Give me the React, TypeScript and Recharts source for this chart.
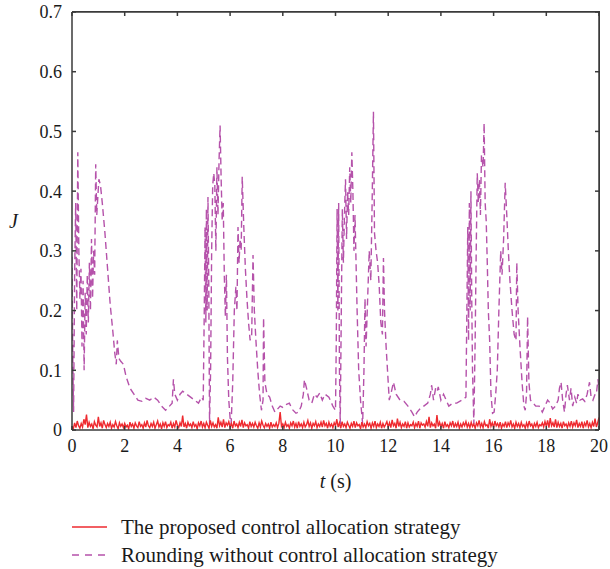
import React from "react";
import { Line, LineChart, XAxis, YAxis } from "recharts";

// J of the proposed strategy, sampled every 0.05 s from t = 0 to 20
const proposedJ = [
  0.006, 0.002, 0.012, 0.004, 0.015, 0.007, 0.003, 0.011, 0.005, 0.018,
  0.009, 0.026, 0.004, 0.013, 0.006, 0.01, 0.002, 0.014, 0.008, 0.005,
  0.022, 0.006, 0.012, 0.003, 0.016, 0.009, 0.004, 0.011, 0.006, 0.013,
  0.003, 0.009, 0.005, 0.014, 0.007, 0.002, 0.012, 0.006, 0.01, 0.004,
  0.011, 0.005, 0.008, 0.002, 0.013, 0.006, 0.01, 0.003, 0.012, 0.007,
  0.004, 0.014, 0.006, 0.009, 0.003, 0.012, 0.005, 0.016, 0.007, 0.004,
  0.011, 0.006, 0.013, 0.003, 0.009, 0.015, 0.005, 0.01, 0.002, 0.012,
  0.006, 0.014, 0.004, 0.009, 0.007, 0.013, 0.003, 0.011, 0.005, 0.016,
  0.008, 0.004, 0.012, 0.006, 0.024, 0.005, 0.011, 0.003, 0.013, 0.007,
  0.01, 0.004, 0.014, 0.006, 0.009, 0.002, 0.012, 0.007, 0.015, 0.005,
  0.011, 0.004, 0.013, 0.008, 0.003, 0.016, 0.006, 0.012, 0.005, 0.009,
  0.003, 0.021, 0.007, 0.013, 0.005, 0.018, 0.004, 0.012, 0.008, 0.014,
  0.005, 0.011, 0.003, 0.015, 0.007, 0.01, 0.004, 0.013, 0.006, 0.017,
  0.004, 0.012, 0.007, 0.009, 0.003, 0.014, 0.006, 0.011, 0.005, 0.013,
  0.007, 0.003, 0.012, 0.005, 0.015, 0.008, 0.004, 0.011, 0.006, 0.01,
  0.003, 0.013, 0.005, 0.009, 0.006, 0.012, 0.004, 0.011, 0.03, 0.006,
  0.01, 0.004, 0.013, 0.006, 0.009, 0.003, 0.012, 0.007, 0.015, 0.005,
  0.011, 0.003, 0.014, 0.006, 0.01, 0.004, 0.013, 0.005, 0.009, 0.016,
  0.006, 0.012, 0.003, 0.011, 0.007, 0.014, 0.004, 0.01, 0.006, 0.013,
  0.005, 0.016, 0.007, 0.011, 0.003, 0.013, 0.006, 0.01, 0.004, 0.012,
  0.007, 0.018, 0.005, 0.012, 0.003, 0.014, 0.006, 0.01, 0.004, 0.013,
  0.008, 0.003, 0.011, 0.006, 0.015, 0.004, 0.012, 0.007, 0.009, 0.002,
  0.013, 0.005, 0.01, 0.004, 0.014, 0.007, 0.011, 0.003, 0.012, 0.006,
  0.015, 0.004, 0.01, 0.006, 0.013, 0.003, 0.011, 0.005, 0.009, 0.014,
  0.005, 0.012, 0.004, 0.017, 0.007, 0.011, 0.003, 0.019, 0.006, 0.013,
  0.004, 0.01, 0.006, 0.014, 0.003, 0.012, 0.005, 0.009, 0.007, 0.013,
  0.004, 0.011, 0.006, 0.015, 0.003, 0.012, 0.008, 0.01, 0.005, 0.014,
  0.006, 0.022, 0.004, 0.012, 0.007, 0.01, 0.003, 0.025, 0.006, 0.013,
  0.005, 0.011, 0.003, 0.014, 0.006, 0.009, 0.004, 0.012, 0.007, 0.015,
  0.004, 0.011, 0.006, 0.013, 0.003, 0.01, 0.005, 0.012, 0.007, 0.014,
  0.005, 0.011, 0.004, 0.013, 0.006, 0.01, 0.003, 0.012, 0.007, 0.016,
  0.005, 0.011, 0.004, 0.014, 0.007, 0.009, 0.003, 0.018, 0.006, 0.012,
  0.004, 0.015, 0.007, 0.011, 0.005, 0.013, 0.003, 0.01, 0.006, 0.014,
  0.004, 0.012, 0.007, 0.016, 0.005, 0.01, 0.003, 0.013, 0.006, 0.011,
  0.004, 0.013, 0.006, 0.009, 0.003, 0.012, 0.005, 0.015, 0.007, 0.01,
  0.003, 0.011, 0.006, 0.013, 0.004, 0.009, 0.007, 0.012, 0.005, 0.014,
  0.006, 0.016, 0.004, 0.02, 0.007, 0.012, 0.005, 0.018, 0.004, 0.013,
  0.006, 0.011, 0.003, 0.014, 0.007, 0.01, 0.004, 0.012, 0.006, 0.015,
  0.005, 0.012, 0.007, 0.017, 0.004, 0.011, 0.006, 0.014, 0.003, 0.012,
  0.007, 0.016, 0.005, 0.011, 0.004, 0.013, 0.006, 0.019, 0.005, 0.012,
  0.021,
];

// [t, J] for rounding without control allocation
const roundingPoints: [number, number][] = [
  [0, 0.29], [0.03, 0.12], [0.06, 0.03], [0.1, 0.26], [0.14, 0.38], [0.18, 0.2],
  [0.22, 0.465], [0.26, 0.3], [0.3, 0.22], [0.34, 0.27], [0.38, 0.14], [0.42, 0.25],
  [0.46, 0.1], [0.5, 0.23], [0.54, 0.16], [0.58, 0.26], [0.62, 0.18], [0.66, 0.28],
  [0.7, 0.2], [0.74, 0.32], [0.78, 0.22], [0.82, 0.3], [0.86, 0.26], [0.9, 0.445],
  [0.94, 0.36], [0.98, 0.39], [1.02, 0.42], [1.08, 0.41], [1.15, 0.38], [1.25, 0.33],
  [1.35, 0.27], [1.45, 0.21], [1.55, 0.165], [1.62, 0.13], [1.68, 0.11], [1.72, 0.15],
  [1.78, 0.12], [1.85, 0.115], [1.95, 0.11], [2.05, 0.09], [2.2, 0.07], [2.35, 0.06],
  [2.5, 0.05], [2.65, 0.048], [2.8, 0.053], [2.95, 0.05], [3.1, 0.055], [3.25, 0.05],
  [3.4, 0.04], [3.55, 0.033], [3.7, 0.04], [3.8, 0.045], [3.85, 0.085], [3.9, 0.06],
  [4.0, 0.05], [4.1, 0.06], [4.2, 0.065], [4.35, 0.06], [4.5, 0.055], [4.65, 0.05],
  [4.8, 0.045], [4.92, 0.055], [4.98, 0.05],
  [5.02, 0.2], [5.05, 0.34], [5.08, 0.18], [5.1, 0.37], [5.13, 0.2], [5.16, 0.39],
  [5.19, 0.25], [5.22, 0.01], [5.26, 0.1], [5.3, 0.3], [5.34, 0.41], [5.38, 0.43],
  [5.42, 0.41], [5.46, 0.3], [5.5, 0.44], [5.54, 0.36], [5.58, 0.45], [5.62, 0.51],
  [5.66, 0.42], [5.7, 0.35], [5.74, 0.38], [5.78, 0.26], [5.82, 0.19], [5.86, 0.26],
  [5.9, 0.12], [5.95, 0.05], [6.0, 0.02], [6.04, 0.01], [6.1, 0.08], [6.16, 0.2],
  [6.22, 0.24], [6.26, 0.2], [6.3, 0.34], [6.34, 0.28], [6.38, 0.32], [6.42, 0.3],
  [6.46, 0.424], [6.52, 0.34], [6.58, 0.27], [6.64, 0.22], [6.7, 0.18], [6.76, 0.15],
  [6.82, 0.16], [6.87, 0.293], [6.92, 0.2], [6.98, 0.15], [7.05, 0.1], [7.12, 0.06],
  [7.19, 0.033], [7.25, 0.05], [7.27, 0.188], [7.32, 0.08], [7.4, 0.06], [7.5, 0.055],
  [7.6, 0.04], [7.7, 0.03], [7.8, 0.035], [7.9, 0.04], [8.0, 0.038], [8.1, 0.042],
  [8.25, 0.045], [8.35, 0.035], [8.5, 0.028], [8.6, 0.03], [8.7, 0.04], [8.78, 0.06],
  [8.82, 0.084], [8.9, 0.07], [9.0, 0.05], [9.1, 0.045], [9.2, 0.06], [9.3, 0.055],
  [9.4, 0.062], [9.5, 0.05], [9.6, 0.06], [9.75, 0.055], [9.9, 0.04], [10.0, 0.033],
  [10.03, 0.15], [10.06, 0.37], [10.09, 0.2], [10.12, 0.38], [10.15, 0.1], [10.18, 0.01],
  [10.22, 0.2], [10.26, 0.37], [10.3, 0.28], [10.34, 0.36], [10.38, 0.42], [10.42, 0.32],
  [10.46, 0.4], [10.5, 0.36], [10.54, 0.44], [10.58, 0.38], [10.62, 0.465], [10.66, 0.4],
  [10.7, 0.3], [10.74, 0.36], [10.78, 0.28], [10.82, 0.2], [10.88, 0.1], [10.95, 0.05],
  [11.03, 0.01], [11.08, 0.1], [11.12, 0.22], [11.16, 0.14], [11.22, 0.22], [11.28, 0.3],
  [11.34, 0.25], [11.39, 0.38], [11.44, 0.533], [11.48, 0.33], [11.54, 0.3], [11.6, 0.28],
  [11.66, 0.24], [11.72, 0.18], [11.78, 0.16], [11.82, 0.288], [11.86, 0.2], [11.92, 0.14],
  [11.98, 0.095], [12.04, 0.05], [12.1, 0.06], [12.2, 0.08], [12.3, 0.06], [12.45, 0.05],
  [12.6, 0.048], [12.75, 0.04], [12.9, 0.03], [13.0, 0.022], [13.1, 0.03], [13.2, 0.035],
  [13.35, 0.04], [13.5, 0.045], [13.6, 0.06], [13.65, 0.075], [13.72, 0.05], [13.8, 0.07],
  [13.86, 0.065], [13.9, 0.072], [14.0, 0.05], [14.1, 0.06], [14.2, 0.05], [14.3, 0.04],
  [14.45, 0.045], [14.6, 0.045], [14.8, 0.05], [14.95, 0.055],
  [15.02, 0.34], [15.05, 0.15], [15.08, 0.38], [15.11, 0.2], [15.14, 0.4], [15.17, 0.22],
  [15.2, 0.1], [15.25, 0.01], [15.3, 0.15], [15.34, 0.3], [15.38, 0.43], [15.42, 0.38],
  [15.46, 0.42], [15.5, 0.36], [15.54, 0.46], [15.6, 0.44], [15.64, 0.514], [15.68, 0.38],
  [15.72, 0.35], [15.76, 0.28], [15.8, 0.2], [15.85, 0.15], [15.9, 0.06], [15.96, 0.028],
  [16.02, 0.03], [16.08, 0.06], [16.14, 0.1], [16.2, 0.2], [16.27, 0.3], [16.32, 0.26],
  [16.38, 0.32], [16.44, 0.414], [16.5, 0.36], [16.56, 0.3], [16.62, 0.25], [16.7, 0.2],
  [16.78, 0.16], [16.85, 0.15], [16.88, 0.28], [16.93, 0.2], [17.0, 0.14], [17.08, 0.08],
  [17.15, 0.04], [17.2, 0.033], [17.25, 0.06], [17.29, 0.19], [17.34, 0.08], [17.4, 0.05],
  [17.5, 0.045], [17.6, 0.04], [17.73, 0.04], [17.85, 0.03], [17.95, 0.04], [18.05, 0.05],
  [18.15, 0.045], [18.24, 0.035], [18.35, 0.04], [18.45, 0.05], [18.5, 0.07], [18.56, 0.08],
  [18.62, 0.05], [18.69, 0.03], [18.75, 0.06], [18.8, 0.075], [18.88, 0.05], [18.94, 0.07],
  [19.0, 0.04], [19.08, 0.055], [19.15, 0.045], [19.2, 0.06], [19.28, 0.05], [19.38, 0.052],
  [19.46, 0.048], [19.55, 0.06], [19.64, 0.08], [19.7, 0.055], [19.77, 0.05], [19.85, 0.06],
  [19.9, 0.06], [19.96, 0.085], [20.0, 0.07],
];

const xTicks = [0, 2, 4, 6, 8, 10, 12, 14, 16, 18, 20];
const yTicks = [0, 0.1, 0.2, 0.3, 0.4, 0.5, 0.6, 0.7];

const proposedData = proposedJ.map((j, i) => ({ t: i / 20, j }));
const roundingData = roundingPoints.map(([t, j]) => ({ t, j }));

const FONT = "'Liberation Serif', 'DejaVu Serif', serif";
const RED = "#ee2a2f";
const MAGENTA = "#b552aa";
const AXIS = "#3a3a3a";

const tickStyle = { fill: "#1a1a1a", fontSize: 18, fontFamily: FONT };

function XLabel({ viewBox }: any) {
  const { x, y, width, height } = viewBox;
  return (
    <text x={x + width / 2} y={y + height - 2} textAnchor="middle" fill="#1a1a1a" fontSize={20} fontFamily={FONT}>
      <tspan fontStyle="italic">t</tspan> (s)
    </text>
  );
}

export default function App() {
  return (
    <div style={{ position: "absolute", left: 0, top: 0, width: 610, height: 569, background: "#fff", fontFamily: FONT }}>
      <style>{`svg text, svg tspan { font-family: ${FONT} !important; }`}</style>
      <LineChart width={610} height={500} margin={{ top: 11, right: 0, bottom: 10, left: 0 }}>
        <XAxis
          dataKey="t"
          type="number"
          domain={[0, 20]}
          ticks={xTicks}
          allowDataOverflow
          height={60}
          stroke={AXIS}
          strokeWidth={1.5}
          tickSize={-4}
          tickMargin={13}
          tick={tickStyle}
          label={<XLabel />}
        />
        <XAxis
          xAxisId="top"
          dataKey="t"
          orientation="top"
          type="number"
          domain={[0, 20]}
          ticks={xTicks}
          allowDataOverflow
          height={1}
          stroke={AXIS}
          strokeWidth={1.5}
          tickSize={-4}
          tickFormatter={() => ""}
        />
        <YAxis
          type="number"
          domain={[0, 0.7]}
          ticks={yTicks}
          allowDataOverflow
          width={72}
          stroke={AXIS}
          strokeWidth={1.5}
          tickSize={-4}
          tickMargin={14}
          tick={tickStyle}
          tickFormatter={(v: number) => (v === 0 ? "0" : v.toFixed(1))}
          label={{ value: "J", position: "insideLeft", offset: 9, fill: "#1a1a1a", fontSize: 20, fontStyle: "italic", fontFamily: FONT }}
        />
        <YAxis
          yAxisId="right"
          orientation="right"
          type="number"
          domain={[0, 0.7]}
          ticks={yTicks}
          allowDataOverflow
          width={11}
          stroke={AXIS}
          strokeWidth={1.5}
          tickSize={-4}
          tickFormatter={() => ""}
        />
        {/* transparent series so the top and right frame axes get drawn */}
        <Line
          xAxisId="top"
          yAxisId="right"
          data={proposedData}
          dataKey="j"
          stroke="rgba(0,0,0,0)"
          dot={false}
          legendType="none"
          isAnimationActive={false}
        />
        <Line
          data={roundingData}
          dataKey="j"
          stroke={MAGENTA}
          strokeWidth={1.4}
          strokeDasharray="7 4"
          dot={false}
          isAnimationActive={false}
        />
        <Line
          data={proposedData}
          dataKey="j"
          stroke={RED}
          strokeWidth={1.4}
          dot={false}
          isAnimationActive={false}
        />
      </LineChart>
      {/* plot frame (top and right edges) */}
      <div
        style={{
          position: "absolute",
          left: 72,
          top: 11,
          width: 528,
          height: 419,
          borderTop: `1.5px solid ${AXIS}`,
          borderRight: `1.5px solid ${AXIS}`,
          boxSizing: "border-box",
          pointerEvents: "none",
        }}
      />
      <div style={{ position: "absolute", left: 72, top: 513, fontSize: 21, color: "#1a1a1a", lineHeight: "28px", whiteSpace: "nowrap" }}>
        <div style={{ display: "flex", alignItems: "center" }}>
          <svg width={35} height={4} style={{ marginRight: 14 }}>
            <line x1={0} y1={2} x2={35} y2={2} stroke={RED} strokeWidth={1.5} />
          </svg>
          The proposed control allocation strategy
        </div>
        <div style={{ display: "flex", alignItems: "center" }}>
          <svg width={35} height={4} style={{ marginRight: 14 }}>
            <line x1={0} y1={2} x2={35} y2={2} stroke={MAGENTA} strokeWidth={1.5} strokeDasharray="7 6" />
          </svg>
          Rounding without control allocation strategy
        </div>
      </div>
    </div>
  );
}
